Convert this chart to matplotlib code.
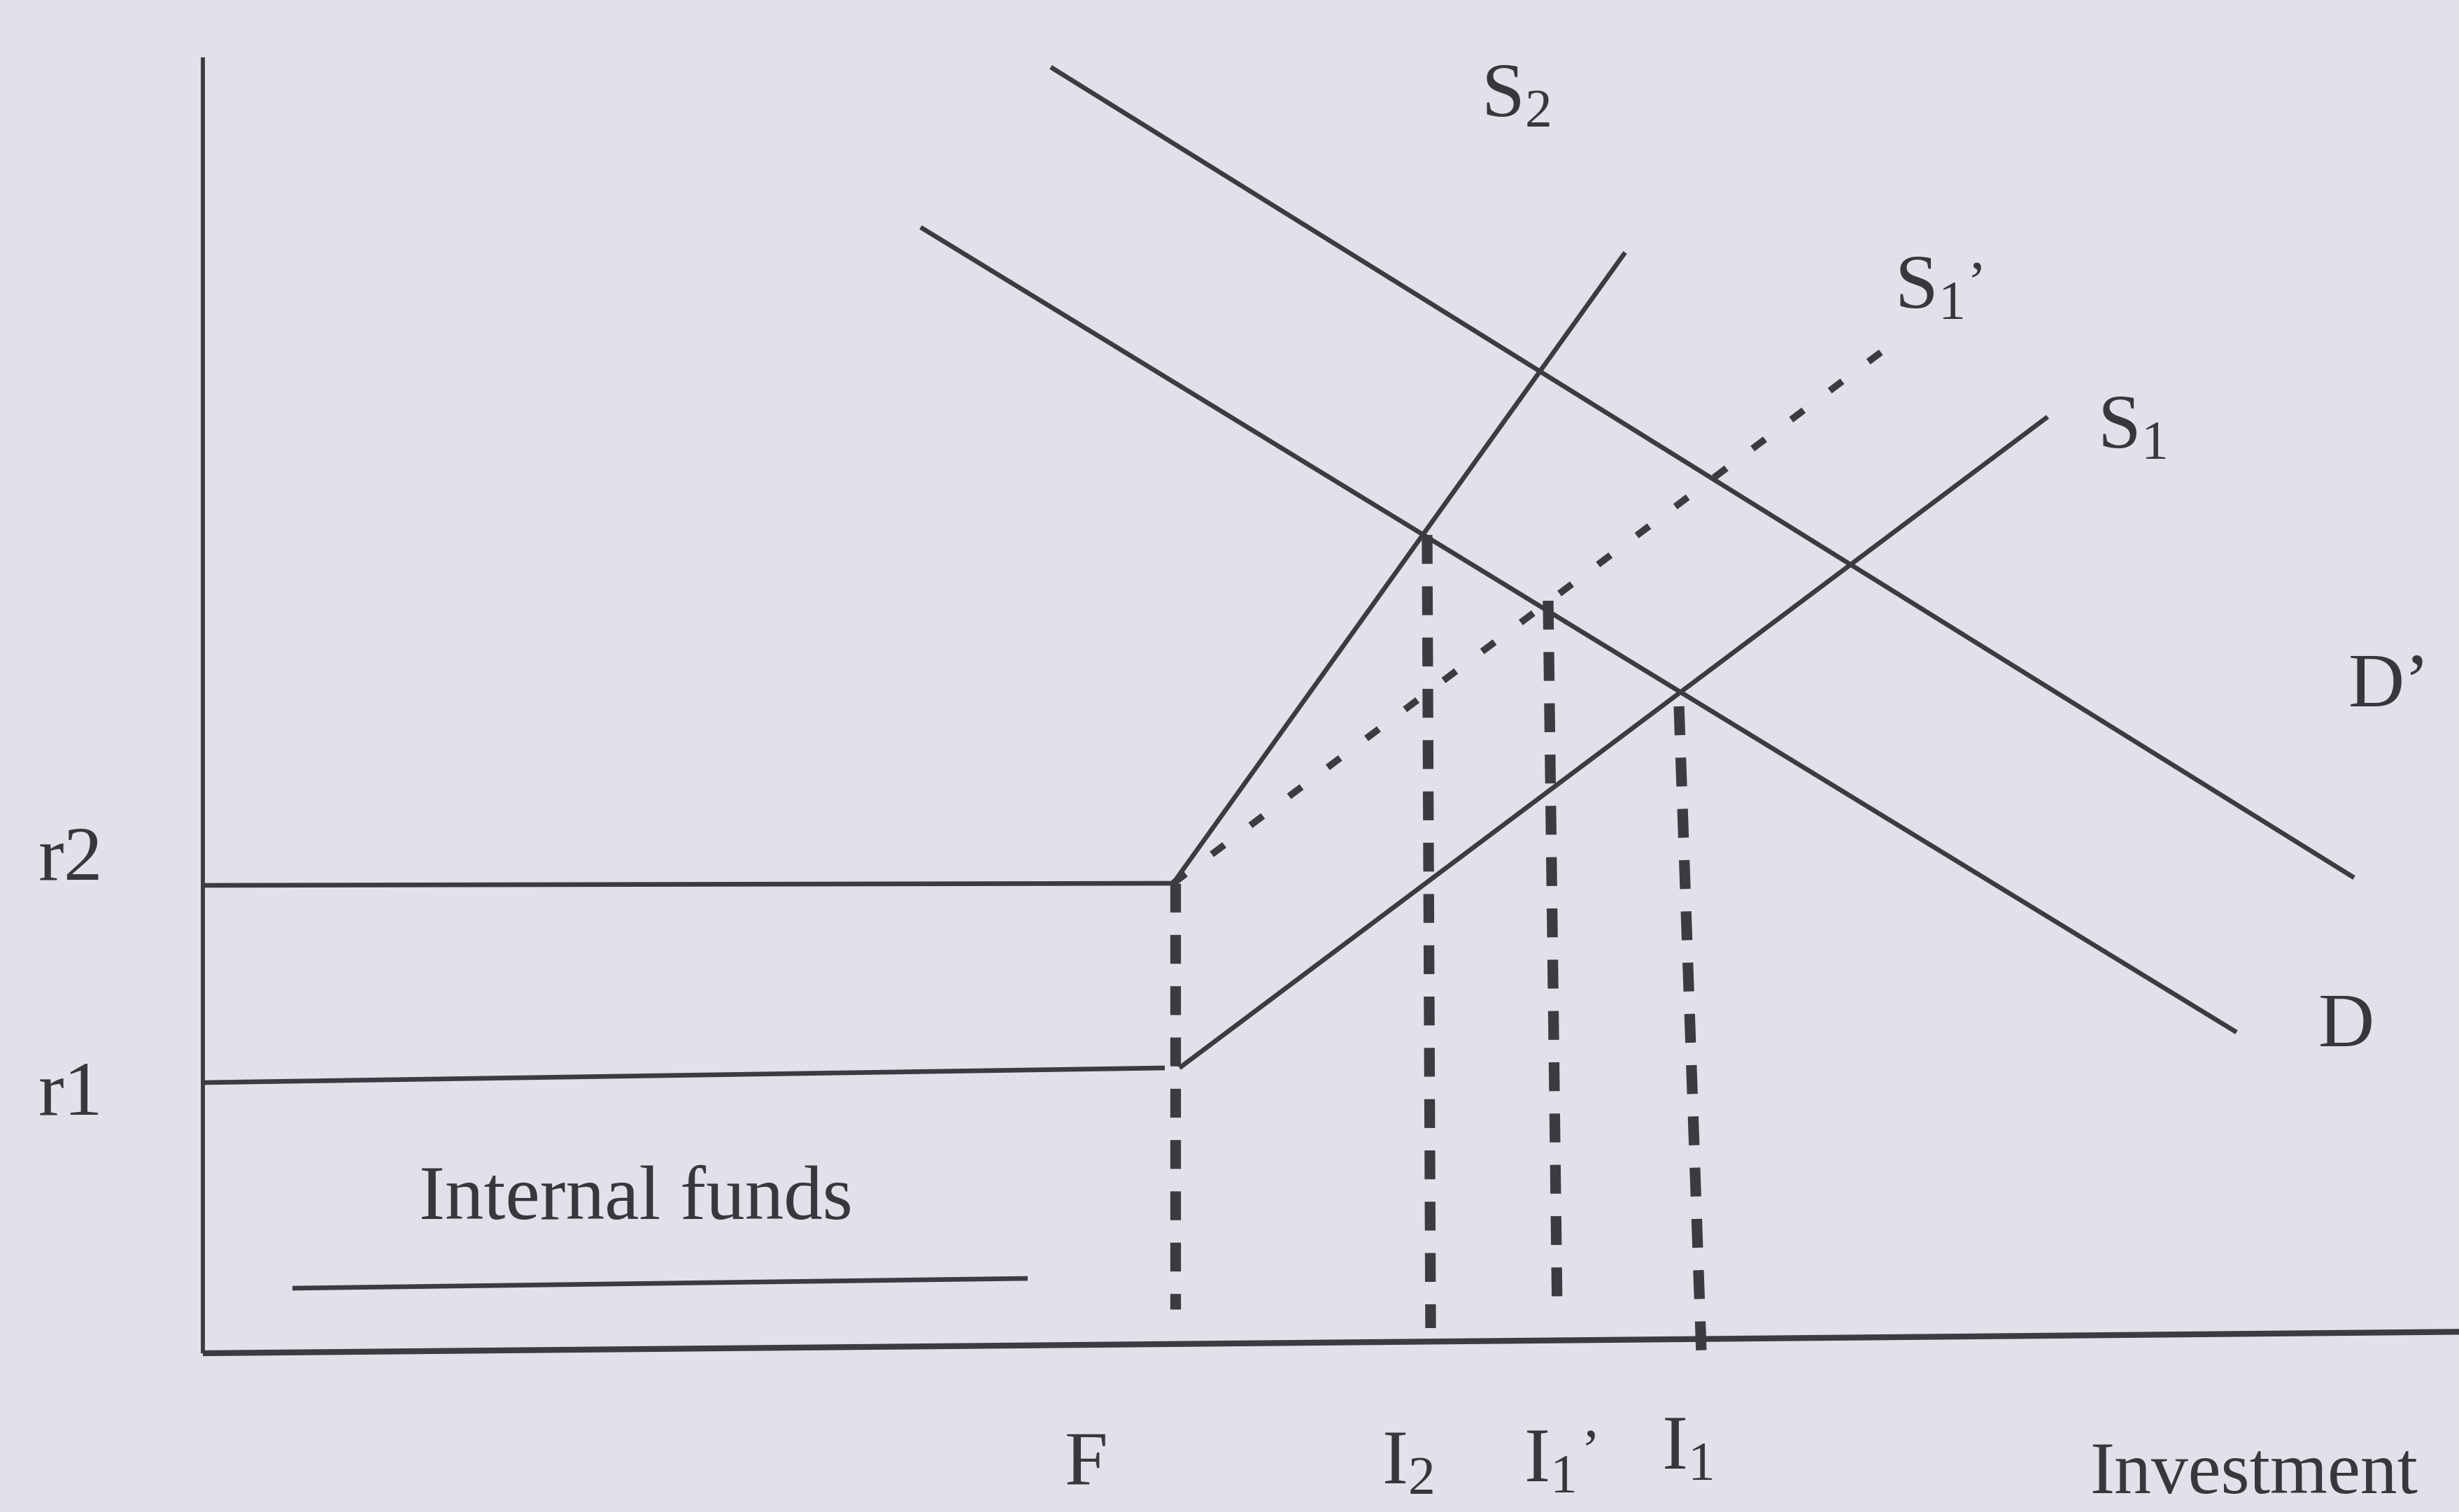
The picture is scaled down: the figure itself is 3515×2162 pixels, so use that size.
import matplotlib
matplotlib.use("Agg")
import matplotlib.pyplot as plt

plt.rcParams["font.family"] = ["Liberation Serif", "DejaVu Serif"]
plt.rcParams["mathtext.fontset"] = "custom"
plt.rcParams["mathtext.rm"] = "Liberation Serif"
plt.rcParams["mathtext.it"] = "Liberation Serif:italic"
plt.rcParams["mathtext.bf"] = "Liberation Serif:bold"

# ---- data (x: investment, y: interest rate; units) ----
yaxis_x = [0.0, 0.0]
yaxis_y = [0.0, 18.53]
xaxis_x = [0.0, 32.6]
xaxis_y = [0.0, 0.31]

r2_x = [0.0, 13.87]
r2_y = [6.69, 6.72]
r1_x = [0.0, 13.75]
r1_y = [3.87, 4.08]

S2_x = [13.87, 20.33]
S2_y = [6.72, 15.74]
S1p_x = [13.87, 24.25]
S1p_y = [6.72, 14.51]
S1_x = [13.96, 26.37]
S1_y = [4.08, 13.39]
D_x = [10.26, 29.07]
D_y = [16.10, 4.59]
Dp_x = [12.12, 30.75]
Dp_y = [18.39, 6.80]

drop_names = ["F", "I2", "I1'", "I1"]
drop_x_top = [13.90, 17.50, 19.23, 21.10]
drop_x_bot = [13.90, 17.55, 19.36, 21.42]
drop_y_top = [6.72, 11.70, 10.76, 9.25]
drop_y_bot = [0.63, 0.36, 0.56, 0.00]

internal_x = [1.28, 11.79]
internal_y = [0.93, 1.07]

label_text = ["r2", "r1", "Internal funds", r"$\mathrm{S}_{2}$", r"$\mathrm{S}_{1}$",
              r"$\mathrm{S}_{1}$", "D\u2019", "D", "F", r"$\mathrm{I}_{2}$",
              r"$\mathrm{I}_{1}$", r"$\mathrm{I}_{1}$"]
label_x = [-2.35, -2.35, 3.09, 18.27, 24.18, 27.08, 30.67, 30.24, 12.32, 16.85, 18.88, 20.85]
label_y = [6.78, 3.42, 1.92, 17.68, 14.93, 12.93, 9.25, 4.39, -1.88, -1.87, -1.85, -1.67]

xlabel_text = "Investment"
xlabel_pos = [26.97, -2.00]

prime_text = ["\u2019", "\u2019"]
prime_x = [25.22, 19.70]
prime_y = [15.05, -1.65]

# ---- styling ----
BG = "#e2e0e9"
INK = "#3b3b42"
TXT = "#37373d"

fig = plt.figure(figsize=(35.16, 21.62), dpi=100, facecolor=BG)
ax = fig.add_axes([0, 0, 1, 1])
ax.set_facecolor(BG)
ax.set_xlim(-2.90, 32.26)
ax.set_ylim(-2.27, 19.35)
ax.axis("off")

solid = dict(color=INK, lw=4.8, solid_capstyle="butt")
ax.plot(yaxis_x, yaxis_y, color=INK, lw=4.2, solid_capstyle="butt")
ax.plot(xaxis_x, xaxis_y, color=INK, lw=6.0, solid_capstyle="butt")
ax.plot(r2_x, r2_y, **solid)
ax.plot(r1_x, r1_y, **solid)
ax.plot(S2_x, S2_y, **solid)
ax.plot(S1_x, S1_y, **solid)
ax.plot(D_x, D_y, **solid)
ax.plot(Dp_x, Dp_y, **solid)
ax.plot(internal_x, internal_y, **solid)

# S1' dotted
ax.plot(S1p_x, S1p_y, color=INK, lw=7, dashes=(2.3, 4.8), dash_capstyle="butt")

# vertical dashed drop lines
for xt, xb, yt, yb in zip(drop_x_top, drop_x_bot, drop_y_top, drop_y_bot):
    ax.plot([xt, xb], [yt, yb], color=INK, lw=11, dashes=(2.7, 2.1),
            dash_capstyle="butt")

for t, x, y in zip(label_text, label_x, label_y):
    ax.text(x, y, t, fontsize=80, color=TXT, ha="left", va="baseline")
ax.text(xlabel_pos[0], xlabel_pos[1], xlabel_text, fontsize=76, color=TXT,
        ha="left", va="baseline")
for t, x, y in zip(prime_text, prime_x, prime_y):
    ax.text(x, y, t, fontsize=60, color=TXT, ha="left", va="baseline")

fig.savefig("out.png", dpi=100, facecolor=BG)
